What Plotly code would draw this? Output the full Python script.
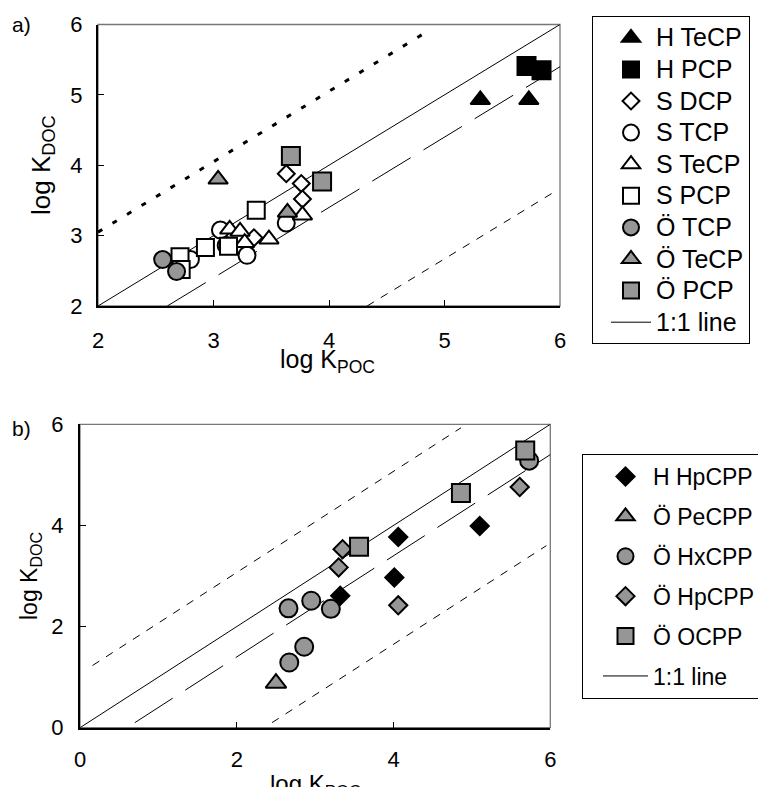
import plotly.graph_objects as go

W, H = 758, 787
FONT = "Liberation Sans, Arial, sans-serif"
GRAY = "#969696"

# ---------------- Panel a data ----------------
a_H_TeCP_x = [5.31, 5.73]
a_H_TeCP_y = [4.93, 4.93]
a_H_PCP_x = [5.71, 5.84]
a_H_PCP_y = [5.41, 5.35]
a_S_DCP_x = [3.63, 3.76, 3.77, 3.35]
a_S_DCP_y = [3.88, 3.74, 3.52, 2.97]
a_S_TCP_x = [3.06, 3.11, 3.29, 3.63, 2.80]
a_S_TCP_y = [3.08, 2.86, 2.72, 3.18, 2.66]
a_S_TeCP_x = [3.14, 3.23, 3.27, 3.48, 3.77]
a_S_TeCP_y = [3.09, 3.06, 2.90, 2.95, 3.29]
a_S_PCP_x = [3.37, 2.93, 3.13, 2.71, 2.72]
a_S_PCP_y = [3.36, 2.83, 2.85, 2.70, 2.52]
a_O_TCP_x = [2.56, 2.68]
a_O_TCP_y = [2.66, 2.49]
a_O_TeCP_x = [3.04, 3.64]
a_O_TeCP_y = [3.80, 3.33]
a_O_PCP_x = [3.67, 3.94]
a_O_PCP_y = [4.13, 3.77]

# reference lines panel a
a_line11_x = [2, 6]
a_line11_y = [2, 6]
a_longdash_x = [2.6, 6.0]
a_longdash_y = [2.0, 5.4]
a_dotted_x = [2.0, 4.87]
a_dotted_y = [3.05, 5.92]
a_shortdash_x = [4.33, 5.95]
a_shortdash_y = [2.0, 3.62]

# ---------------- Panel b data ----------------
b_H_HpCPP_x = [3.32, 4.06, 5.10, 4.01]
b_H_HpCPP_y = [2.61, 3.77, 3.99, 2.97]
b_O_PeCPP_x = [2.50]
b_O_PeCPP_y = [0.88]
b_O_HxCPP_x = [2.66, 2.95, 3.20, 2.67, 2.86, 5.73]
b_O_HxCPP_y = [2.36, 2.51, 2.35, 1.29, 1.60, 5.28]
b_O_HpCPP_x = [3.35, 3.30, 4.06, 5.61]
b_O_HpCPP_y = [3.53, 3.17, 2.42, 4.76]
b_O_OCPP_x = [3.56, 4.86, 5.68]
b_O_OCPP_y = [3.58, 4.64, 5.48]

b_line11_x = [0, 6]
b_line11_y = [0, 6]
b_longdash_x = [0.7, 6.0]
b_longdash_y = [0.1, 5.4]
b_updash_x = [0.16, 4.86]
b_updash_y = [1.23, 5.93]
b_lowdash_x = [2.45, 5.95]
b_lowdash_y = [0.1, 3.6]


def px_x(p):
    return p / W


def px_y(p):
    return 1 - p / H


fig = go.Figure()

LEG_A_TXT = 25
LEG_B_TXT = 23


def lab(t, size):
    return "<span style='font-size:%dpx'>%s</span>" % (size, t)


# ---- panel a lines ----
fig.add_trace(go.Scatter(x=a_line11_x, y=a_line11_y, mode="lines", name=lab("1:1 line", LEG_A_TXT),
                         line=dict(color="black", width=1), xaxis="x", yaxis="y",
                         legend="legend", legendrank=100))
fig.add_trace(go.Scatter(x=a_longdash_x, y=a_longdash_y, mode="lines", showlegend=False,
                         line=dict(color="black", width=1, dash="45px,15px"), xaxis="x", yaxis="y"))
fig.add_trace(go.Scatter(x=a_dotted_x, y=a_dotted_y, mode="lines", showlegend=False,
                         line=dict(color="black", width=3, dash="5px,12px"), xaxis="x", yaxis="y"))
fig.add_trace(go.Scatter(x=a_shortdash_x, y=a_shortdash_y, mode="lines", showlegend=False,
                         line=dict(color="black", width=1, dash="8px,8px"), xaxis="x", yaxis="y"))


def mk(x, y, name, symbol, fill, size, xa, ya, leg, rank, group=None):
    fig.add_trace(go.Scatter(
        x=x, y=y, mode="markers", name=name, xaxis=xa, yaxis=ya, legend=leg,
        legendrank=rank, legendgroup=group, cliponaxis=False,
        marker=dict(symbol=symbol, color=fill, size=size,
                    line=dict(color="black", width=2))))


# panel a markers
mk(a_H_TeCP_x, a_H_TeCP_y, lab("H TeCP", LEG_A_TXT), "triangle-up", "black", 17, "x", "y", "legend", 1)
mk(a_H_PCP_x, a_H_PCP_y, lab("H PCP", LEG_A_TXT), "square", "black", 18, "x", "y", "legend", 2)
mk(a_S_DCP_x, a_S_DCP_y, lab("S DCP", LEG_A_TXT), "diamond", "white", 13, "x", "y", "legend", 3)
mk(a_S_TCP_x, a_S_TCP_y, lab("S TCP", LEG_A_TXT), "circle", "white", 17, "x", "y", "legend", 4)
mk(a_S_TeCP_x, a_S_TeCP_y, lab("S TeCP", LEG_A_TXT), "triangle-up", "white", 17, "x", "y", "legend", 5)
mk(a_S_PCP_x, a_S_PCP_y, lab("S PCP", LEG_A_TXT), "square", "white", 17, "x", "y", "legend", 6)
mk(a_O_TCP_x, a_O_TCP_y, lab("Ö TCP", LEG_A_TXT), "circle", GRAY, 17, "x", "y", "legend", 7)
mk(a_O_TeCP_x, a_O_TeCP_y, lab("Ö TeCP", LEG_A_TXT), "triangle-up", GRAY, 17, "x", "y", "legend", 8)
mk(a_O_PCP_x, a_O_PCP_y, lab("Ö PCP", LEG_A_TXT), "square", GRAY, 18, "x", "y", "legend", 9)

# ---- panel b lines ----
fig.add_trace(go.Scatter(x=b_line11_x, y=b_line11_y, mode="lines", name=lab("1:1 line", LEG_B_TXT),
                         line=dict(color="black", width=1), xaxis="x2", yaxis="y2",
                         legend="legend2", legendrank=100, legendgroup="b6"))
fig.add_trace(go.Scatter(x=b_longdash_x, y=b_longdash_y, mode="lines", showlegend=False,
                         line=dict(color="black", width=1, dash="45px,15px"), xaxis="x2", yaxis="y2"))
fig.add_trace(go.Scatter(x=b_updash_x, y=b_updash_y, mode="lines", showlegend=False,
                         line=dict(color="black", width=1, dash="8px,8px"), xaxis="x2", yaxis="y2"))
fig.add_trace(go.Scatter(x=b_lowdash_x, y=b_lowdash_y, mode="lines", showlegend=False,
                         line=dict(color="black", width=1, dash="8px,8px"), xaxis="x2", yaxis="y2"))

mk(b_H_HpCPP_x, b_H_HpCPP_y, lab("H HpCPP", LEG_B_TXT), "diamond", "black", 14, "x2", "y2", "legend2", 1, "b1")
mk(b_O_PeCPP_x, b_O_PeCPP_y, lab("Ö PeCPP", LEG_B_TXT), "triangle-up", GRAY, 18, "x2", "y2", "legend2", 2, "b2")
mk(b_O_HxCPP_x, b_O_HxCPP_y, lab("Ö HxCPP", LEG_B_TXT), "circle", GRAY, 18, "x2", "y2", "legend2", 3, "b3")
mk(b_O_HpCPP_x, b_O_HpCPP_y, lab("Ö HpCPP", LEG_B_TXT), "diamond", GRAY, 14, "x2", "y2", "legend2", 4, "b4")
mk(b_O_OCPP_x, b_O_OCPP_y, lab("Ö OCPP", LEG_B_TXT), "square", GRAY, 18, "x2", "y2", "legend2", 5, "b5")

axis_common = dict(showgrid=False, zeroline=False, showline=True, linecolor="black",
                   linewidth=2, ticks="inside", ticklen=6, tickcolor="black",
                   tickfont=dict(family=FONT, size=22, color="black"), automargin=False)

fig.update_layout(
    width=W, height=H,
    margin=dict(l=0, r=0, t=0, b=0, autoexpand=False),
    paper_bgcolor="white", plot_bgcolor="white",
    font=dict(family=FONT, color="black"),
    xaxis=dict(domain=[px_x(98), px_x(560)], range=[2, 6], tickvals=[2, 3, 4, 5, 6],
               anchor="y", ticklabelstandoff=14, **axis_common),
    yaxis=dict(domain=[px_y(306), px_y(24.5)], range=[2, 6], tickvals=[2, 3, 4, 5, 6],
               anchor="x", ticklabelstandoff=9, **axis_common),
    xaxis2=dict(domain=[px_x(80), px_x(550.3)], range=[0, 6], tickvals=[0, 2, 4, 6],
                anchor="y2", ticklabelstandoff=11, **axis_common),
    yaxis2=dict(domain=[px_y(727.7), px_y(424.3)], range=[0, 6], tickvals=[0, 2, 4, 6],
                anchor="x2", ticklabelstandoff=10, **axis_common),
    legend=dict(x=px_x(592), y=px_y(16), xanchor="left", yanchor="top",
                bordercolor="black", borderwidth=1, bgcolor="white",
                font=dict(family=FONT, size=22, color="black"), itemwidth=40,
                indentation=13, tracegroupgap=0),
    legend2=dict(x=px_x(582), y=px_y(454), xanchor="left", yanchor="top",
                 bordercolor="black", borderwidth=1, bgcolor="white",
                 font=dict(family=FONT, size=23, color="black"), itemwidth=45,
                 indentation=15, tracegroupgap=7),
    shapes=[
        dict(type="rect", xref="x domain", yref="y domain", x0=0, x1=1, y0=0, y1=1,
             line=dict(color="#777777", width=1.3), layer="below"),
        dict(type="rect", xref="x2 domain", yref="y2 domain", x0=0, x1=1, y0=0, y1=1,
             line=dict(color="#777777", width=1.3), layer="below"),
    ],
    annotations=[
        dict(text="a)", x=px_x(21), y=px_y(24), xref="paper", yref="paper",
             xanchor="center", yanchor="middle",
             showarrow=False, font=dict(size=21, family=FONT)),
        dict(text="b)", x=px_x(21), y=px_y(428), xref="paper", yref="paper",
             xanchor="center", yanchor="middle",
             showarrow=False, font=dict(size=21, family=FONT)),
        dict(text="log K<sub>DOC</sub>", x=px_x(43), y=px_y(165), xref="paper", yref="paper",
             xanchor="center", yanchor="middle",
             textangle=-90, showarrow=False, font=dict(size=26, family=FONT)),
        dict(text="log K<sub>POC</sub>", x=px_x(327), y=px_y(361), xref="paper", yref="paper",
             xanchor="center", yanchor="middle",
             showarrow=False, font=dict(size=25, family=FONT)),
        dict(text="log K<sub>DOC</sub>", x=px_x(30), y=px_y(576), xref="paper", yref="paper",
             xanchor="center", yanchor="middle",
             textangle=-90, showarrow=False, font=dict(size=23, family=FONT)),
        dict(text="log K<sub>POC</sub>", x=px_x(315), y=px_y(785), xref="paper", yref="paper",
             xanchor="center", yanchor="middle",
             showarrow=False, font=dict(size=24, family=FONT)),
    ],
)

fig.write_html("out.html", config={"displayModeBar": False},
               post_script="document.body.style.margin='0px';document.body.style.overflow='hidden';")
